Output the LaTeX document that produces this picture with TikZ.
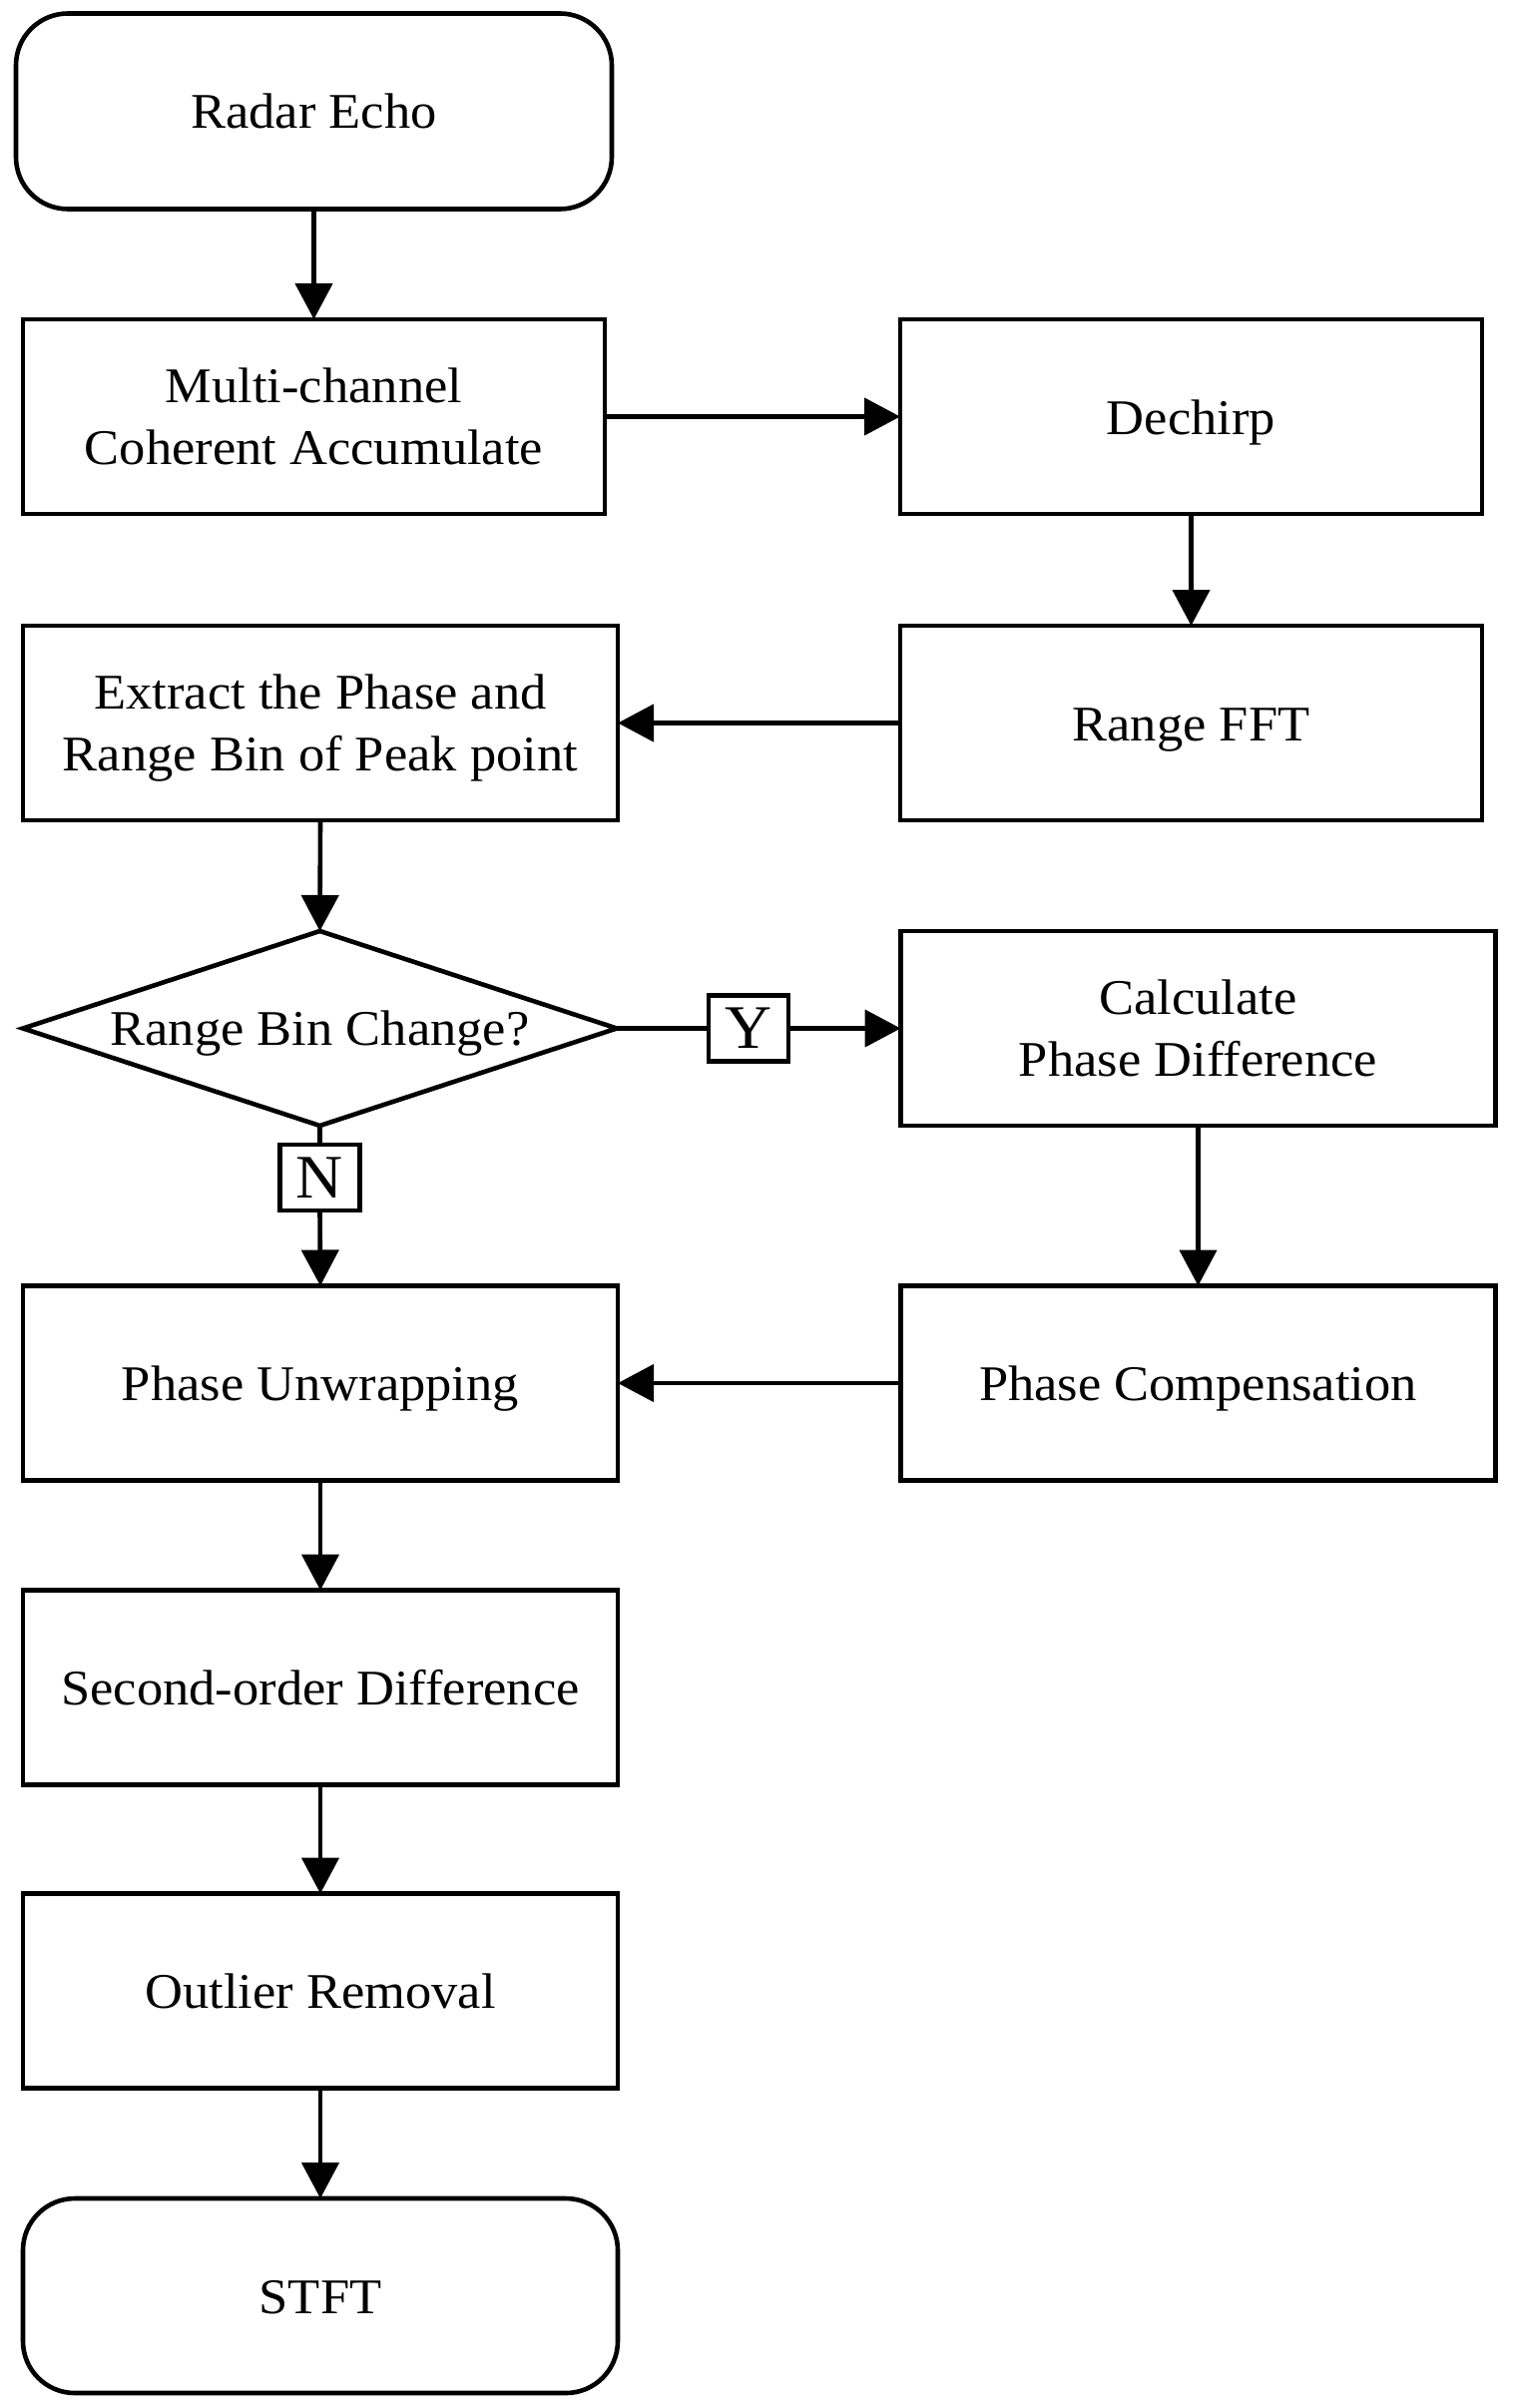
\documentclass[tikz,border=0pt]{standalone}
\usepackage{fontspec}
\setmainfont{Liberation Serif}[FakeStretch=1.05]
\usetikzlibrary{arrows.meta,shapes.geometric}
\begin{document}
\begin{tikzpicture}[x=0.5pt,y=-0.5pt,
  every node/.style={font=\fontsize{25pt}{31pt}\selectfont, align=center, outer sep=0pt, inner sep=0pt},
  lw/.style={line width=2.3pt},
  oneline/.style={text height=20pt, text depth=2.5pt},
  twoline/.style={text height=48.5pt, text depth=0.5pt},
  boxn/.style={draw, lw, rectangle, minimum width=291.5pt, minimum height=97.5pt},
  boxw/.style={draw, lw, rectangle, minimum width=298pt, minimum height=97.5pt},
  term/.style={draw, lw, rectangle, rounded corners=26pt, minimum width=298.5pt, minimum height=98pt},
  decide/.style={draw, lw, diamond, aspect=3.05, minimum width=297.5pt, minimum height=97.5pt, text height=19.5pt, text depth=3pt},
  tag/.style={draw, lw, rectangle, minimum width=40pt, minimum height=33pt, font=\fontsize{31pt}{31pt}\selectfont},
  arr/.style={lw, -{Triangle[length=18pt,width=18.5pt]}},
  plain/.style={lw}
]
\useasboundingbox (0,0) rectangle (1518,2413);
\node[term, oneline] (radar) at (314.5,111.5) {Radar Echo};
\node[boxn, twoline] (multi) at (314.5,417.5) {Multi-channel\\Coherent Accumulate};
\node[boxn, oneline] (dechirp) at (1193.5,417.5) {Dechirp};
\node[boxn, oneline] (rfft) at (1193.5,724.5) {Range FFT};
\node[boxw, twoline] (extract) at (321,724.5) {Extract the Phase and\\Range Bin of Peak point};
\node[decide] (dia) at (320.5,1030.5) {Range Bin Change?};
\node[tag] (ytag) at (750,1030.5) {Y};
\node[boxw, twoline] (calc) at (1200.5,1030.5) {Calculate\\Phase Difference};
\node[tag] (ntag) at (320.5,1180) {N};
\node[boxw, oneline] (unwrap) at (321,1386) {Phase Unwrapping};
\node[boxw, oneline] (comp) at (1200.5,1386) {Phase Compensation};
\node[boxw, oneline] (second) at (321,1691) {Second-order Difference};
\node[boxw, oneline] (outlier) at (321,1995) {Outlier Removal};
\node[term, oneline, minimum width=298pt, minimum height=97.5pt] (stft) at (321,2300.5) {STFT};

\draw[arr] (radar) -- (multi);
\draw[arr] (multi) -- (dechirp);
\draw[arr] (dechirp) -- (rfft);
\draw[arr] (rfft) -- (extract);
\draw[arr] (extract.south) -- (dia.north);
\draw[plain] (dia.east) -- (ytag.west);
\draw[arr] (ytag.east) -- (calc.west);
\draw[plain] (dia.south) -- (ntag.north);
\draw[arr] (ntag.south) -- (unwrap.north);
\draw[arr] (calc) -- (comp);
\draw[arr] (comp) -- (unwrap);
\draw[arr] (unwrap) -- (second);
\draw[arr] (second) -- (outlier);
\draw[arr] (outlier) -- (stft);
\end{tikzpicture}
\end{document}
